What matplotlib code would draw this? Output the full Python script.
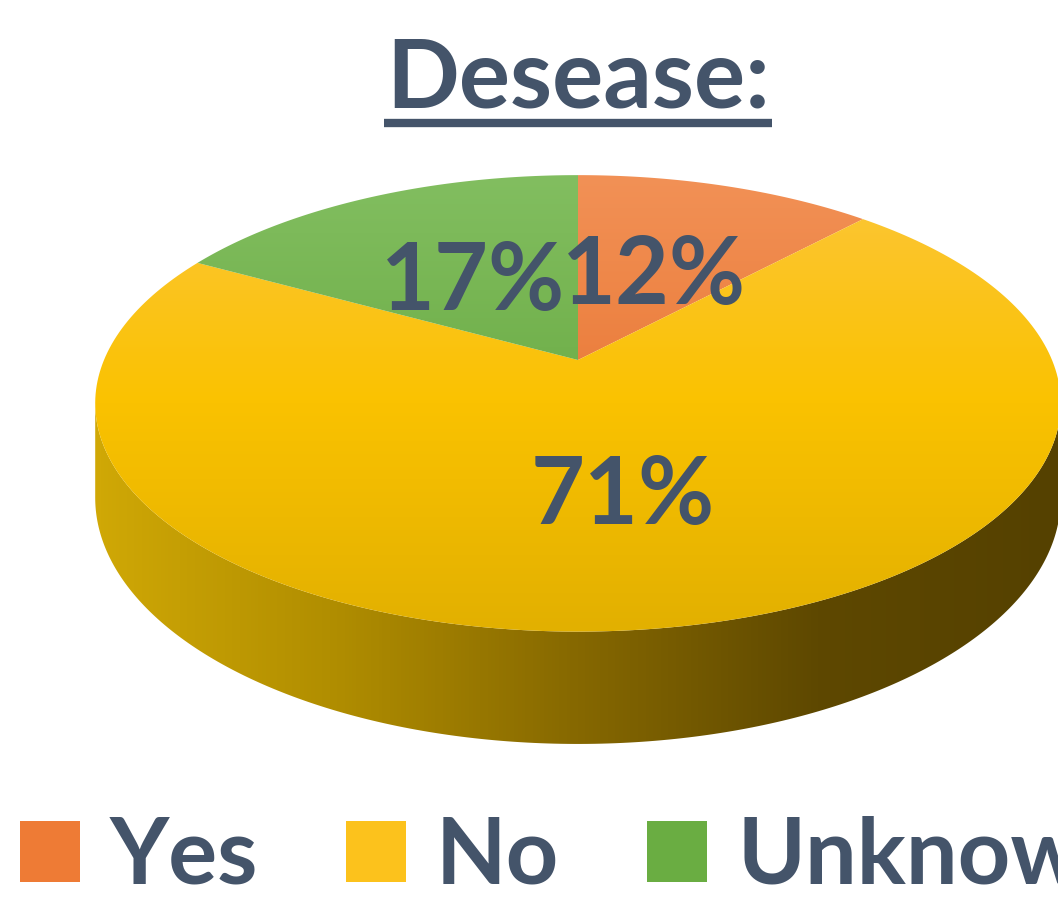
import numpy as np
import matplotlib
matplotlib.use("Agg")
import matplotlib.pyplot as plt
from matplotlib.colors import LinearSegmentedColormap
from matplotlib.patches import Polygon, Patch

# data
labels = ["Yes", "No", "Unknown"]
shares = [12, 71, 17]
pct_labels = ["12%", "71%", "17%"]

# styles
top_ramps = [("#F29156", "#E2661D"), ("#FCC63A", "#FAC200", "#E2B000"), ("#82BE60", "#5A9E30")]
legend_colors = ["#EE7B35", "#FCC21C", "#6AAD42"]
side_ramp = ["#D0A806", "#B08D00", "#866800", "#5E4800", "#554100"]
TEXT = "#44546A"
FONT = "Lato"

# tilted-disc projection into pixel space (perspective, far side shrunk)
CX, CY = 578, 360
A, B, K = 474, 220, 0.19
DEPTH = 91


def project(u, w):
    d = 1 + K * w
    return CX + A * u / d, CY - B * w / d


def arc(t0, t1, r=1.0, n=240):
    t = np.radians(np.linspace(t0, t1, n))
    return project(r * np.sin(t), r * np.cos(t))


fig = plt.figure(figsize=(10.58, 9.0), dpi=100)
ax = fig.add_axes([0, 0, 1, 1])
ax.set_xlim(0, 1058)
ax.set_ylim(900, 0)
ax.axis("off")

# side wall (front part of the disc)
t_edge = np.degrees(np.arccos(-K))
sx, sy = arc(t_edge, 360 - t_edge)
tt = np.radians(np.linspace(t_edge, 360 - t_edge, 240))
drop = DEPTH / (1 + K * np.cos(tt))
side_xy = np.concatenate([np.column_stack([sx, sy]),
                          np.column_stack([sx, sy + drop])[::-1]])
side = Polygon(side_xy, closed=True, facecolor="none", edgecolor="none")
ax.add_patch(side)
side_cmap = LinearSegmentedColormap.from_list("side", side_ramp)
im = ax.imshow(np.linspace(0, 1, 256)[None, :], cmap=side_cmap, aspect="auto",
               extent=(sx.min(), sx.max(), (sy + drop).max(), sy.min()),
               origin="upper", interpolation="bilinear", zorder=1)
im.set_clip_path(side)

# top face wedges, clockwise from 12 o'clock
total = float(sum(shares))
bounds = np.concatenate([[0], np.cumsum(shares)]) / total * 360
top_y0 = CY - B / (1 + K)
top_y1 = CY + B / (1 - K)
for i in range(len(shares)):
    wx, wy = arc(bounds[i], bounds[i + 1])
    xy = np.vstack([[CX, CY], np.column_stack([wx, wy])])
    wedge = Polygon(xy, closed=True, facecolor="none", edgecolor="none", zorder=2)
    ax.add_patch(wedge)
    cmap = LinearSegmentedColormap.from_list(f"w{i}", top_ramps[i])
    g = ax.imshow(np.linspace(0, 1, 256)[:, None], cmap=cmap, aspect="auto",
                  extent=(0, 1058, top_y1, top_y0), origin="upper",
                  interpolation="bilinear", zorder=2)
    g.set_clip_path(wedge)

    mid = np.radians((bounds[i] + bounds[i + 1]) / 2)
    r = 0.47 if i != 1 else 0.54
    lx, ly = project(r * np.sin(mid), r * np.cos(mid))
    ax.text(lx, ly + 6, pct_labels[i], ha="center", va="center", fontsize=67,
            family=FONT, weight="bold", color=TEXT, zorder=5)

ax.set_xlim(0, 1058)
ax.set_ylim(900, 0)

# title with underline
title = fig.text(578 / 1058, 1 - 107 / 900, "Desease:", ha="center", va="baseline",
                 fontsize=69, family=FONT, weight="bold", color=TEXT)
fig.canvas.draw()
bb = title.get_window_extent(fig.canvas.get_renderer())
ax.plot([bb.x0 - 2, bb.x1 + 2], [123, 123], color=TEXT, lw=6,
        solid_capstyle="butt", zorder=5)

# legend
handles = [Patch(facecolor=c, edgecolor="none") for c in legend_colors]
fig.legend(handles, labels, loc="center", bbox_to_anchor=(578 / 1058, 1 - 858 / 900),
           ncol=3, frameon=False, prop={"family": FONT, "weight": "bold", "size": 66},
           labelcolor=TEXT, handlelength=0.65, handleheight=0.65, handletextpad=0.33,
           columnspacing=0.96, borderaxespad=0, borderpad=0)

fig.savefig("out.png", dpi=100)
